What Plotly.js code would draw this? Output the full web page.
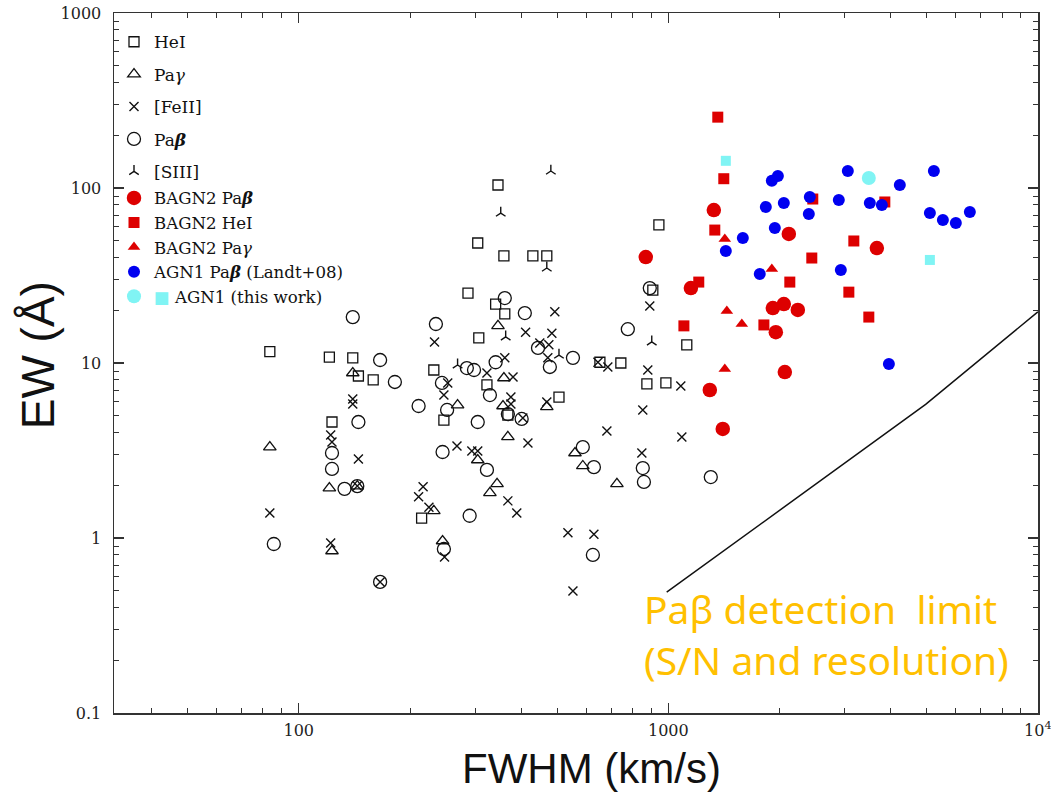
<!DOCTYPE html>
<html><head><meta charset="utf-8">
<script src="https://cdn.plot.ly/plotly-3.0.1.min.js"></script>
<style>html,body{margin:0;padding:0;background:#fff}#chart{width:1051px;height:794px}</style>
</head><body><div id="chart"></div>
<script>
// FWHM (km/s) and EW (Angstrom)
const heiFwhm = [83.5,121,140,145,159,123,215,232,247,287,305,307,323,341,346,359,361,368,430,469,506,653,744,875,908,943,985,1122];
const heiEw   = [11.6,10.8,10.7,8.43,8.0,4.6,1.3,9.12,4.72,25.1,48.5,13.9,7.49,21.7,104,40.9,19.1,5.04,40.9,40.9,6.39,10.1,10.0,7.59,26.1,61.5,7.69,12.7];

const payFwhm = [83.5,121,123,140,144,232,245,269,305,329,344,346,357,359,368,469,559,587,726];
const payEw   = [3.31,1.93,0.843,8.77,1.98,1.43,0.961,5.75,2.79,1.81,2.04,16.3,5.68,8.21,3.78,5.61,3.06,2.58,2.04];

const feFwhm = [83.5,122,123,122,140,140,145,144,166,211,217,225,233,247,253,248,268,294,305,323,361,375,375,368,389,380,404,411,417,449,475,469,472,484,493,535,552,629,645,686,682,853,848,880,891,1081,1088];
const feEw   = [1.39,3.88,3.54,0.936,6.23,5.83,2.83,1.98,0.561,1.72,1.96,1.5,13.2,6.56,7.69,0.779,3.36,3.14,3.14,8.77,10.7,6.39,5.83,1.63,1.39,8.32,4.85,15.0,3.49,13.0,12.7,5.99,10.7,14.8,19.6,1.07,0.498,1.05,10.1,9.49,4.09,5.39,3.06,9.12,21.2,7.39,3.78];

const pabFwhm = [85.6,123,123,133,140,144,145,166,166,182,211,235,244,245,247,252,285,298,305,323,329,290,341,361,368,401,409,444,478,552,587,629,625,777,891,853,859,1303];
const pabEw   = [0.924,3.06,2.48,1.91,18.3,1.98,4.6,10.4,0.561,7.79,5.68,16.7,7.69,3.1,0.865,5.39,9.36,9.12,4.6,2.45,6.56,1.34,10.1,23.5,5.11,4.79,19.3,12.2,9.49,10.7,3.31,2.54,0.8,15.6,26.8,2.51,2.09,2.23];

const siiiFwhm = [269,352,363,469,481,506,902];
const siiiEw   = [9.74,71.9,14.1,34.9,125,11.1,13.2];

const bagnPabFwhm = [869,1151,1295,1328,1404,1918,2054,1954,2119,2241,2067,3667];
const bagnPabEw   = [40.3,26.8,7.01,74.8,4.2,20.6,21.7,15.0,54.6,20.1,8.88,45.4];

const bagnHeiFwhm = [1102,1209,1336,1361,1413,1814,2132,2445,2460,3080,3177,3488,3854];
const bagnHeiEw   = [16.3,29.0,57.5,254,113,16.5,29.0,39.8,86.5,25.4,49.8,18.3,83.2];

const bagnPayFwhm = [1422,1906,1440,1581,1422];
const bagnPayEw   = [51.1,34.4,19.8,16.7,9.24];

const landtFwhm = [1431,1591,1768,1836,1906,1979,1942,2054,2400,2415,2893,2930,3060,3510,3783,3953,4231,5103,5231,5533,5999,6546];
const landtEw   = [43.7,51.8,32.3,77.9,110,117,59.1,82.1,71.0,88.8,85.4,34.0,125,82.1,80.0,9.87,104,71.9,125,65.6,63.1,72.9];

const thisWorkCircleFwhm = [3488];
const thisWorkCircleEw   = [114];
const thisWorkSquareFwhm = [1431,5103];
const thisWorkSquareEw   = [143,38.8];

const limitFwhm = [990,4970,10000];
const limitEw   = [0.49,5.8,19.6];

const xTickVals = [100,1000,10000];
const xTickText = ['100','1000','10<sup>4</sup>'];
const yTickVals = [0.1,1,10,100,1000];
const yTickText = ['0.1','1','10','100','1000'];

const INK = '#111';
const RED = '#dd0000';
const BLUE = '#0000f0';
const CYAN = '#80f4f4';

function openTrace(name, x, y, symbol, size, lw) {
  return {type:'scatter', mode:'markers', x:x, y:y, name:name, legend:'legend', legendgroup:name,
    marker:{symbol:symbol, size:size, color:INK, line:{color:INK, width:lw}}};
}
function filledTrace(name, x, y, symbol, size, color, legend) {
  return {type:'scatter', mode:'markers', x:x, y:y, name:name, legend:legend, legendgroup:name,
    marker:{symbol:symbol, size:size, color:color, line:{width:0}}};
}

const traces = [
  openTrace('HeI', heiFwhm, heiEw, 'square-open', 10, 1.3),
  openTrace('Pa<i>γ</i>', payFwhm, payEw, 'triangle-up-open', 11, 1.3),
  openTrace('[FeII]', feFwhm, feEw, 'x-thin', 9, 1.4),
  openTrace('Pa<b><i>β</i></b>', pabFwhm, pabEw, 'circle-open', 13, 1.3),
  openTrace('[SIII]', siiiFwhm, siiiEw, 'y-up', 8, 1.4),
  filledTrace('BAGN2 Pa<b><i>β</i></b>', bagnPabFwhm, bagnPabEw, 'circle', 14.5, RED, 'legend2'),
  filledTrace('BAGN2 HeI', bagnHeiFwhm, bagnHeiEw, 'square', 11, RED, 'legend2'),
  filledTrace('BAGN2 Pa<i>γ</i>', bagnPayFwhm, bagnPayEw, 'triangle-up', 11, RED, 'legend2'),
  filledTrace('AGN1 Pa<b><i>β</i></b> (Landt+08)', landtFwhm, landtEw, 'circle', 12, BLUE, 'legend2'),
  filledTrace('<span style="color:' + CYAN + '">■</span> AGN1 (this work)', thisWorkCircleFwhm, thisWorkCircleEw, 'circle', 14, CYAN, 'legend2'),
  {type:'scatter', mode:'markers', x:thisWorkSquareFwhm, y:thisWorkSquareEw, showlegend:false,
    marker:{symbol:'square', size:10, color:CYAN}},
  {type:'scatter', mode:'lines', x:limitFwhm, y:limitEw, showlegend:false, line:{color:'#111', width:1.5}}
];

const tickFont = {family:'DejaVu Serif', size:16, color:'#222'};
const axisCommon = {
  type:'log', showgrid:false, zeroline:false, showline:true, linecolor:'#333', linewidth:1.5,
  mirror:'ticks', ticks:'inside', ticklen:10, tickwidth:1.2, tickcolor:'#333', tickmode:'array',
  tickfont:tickFont, ticklabeloverflow:'allow',
  minor:{ticks:'inside', ticklen:5, tickwidth:1, tickcolor:'#333', dtick:'D1', showgrid:false}
};

const layout = {
  width:1051, height:794,
  margin:{l:114, r:13, t:13, b:81},
  paper_bgcolor:'#fff', plot_bgcolor:'#fff',
  showlegend:true,
  xaxis: Object.assign({}, axisCommon, {
    range:[1.5,4.0004], tickvals:xTickVals, ticktext:xTickText, ticklabelstandoff:2
  }),
  yaxis: Object.assign({}, axisCommon, {
    range:[-1,3], tickvals:yTickVals, ticktext:yTickText, ticklabelstandoff:8
  }),
  legend:{x:0, xanchor:'left', y:0.984, yanchor:'top', bgcolor:'rgba(0,0,0,0)', borderwidth:0,
    traceorder:'grouped', tracegroupgap:7.3, font:{family:'DejaVu Serif', size:17, color:INK}},
  legend2:{x:0, xanchor:'left', y:0.7605, yanchor:'top', bgcolor:'rgba(0,0,0,0)', borderwidth:0,
    traceorder:'grouped', tracegroupgap:0, font:{family:'DejaVu Serif', size:16.6, color:INK}},
  annotations:[
    {xref:'paper', yref:'paper', x:0.517, y:-0.079, xanchor:'center', yanchor:'middle',
     showarrow:false, text:'FWHM (km/s)', font:{family:'Liberation Sans', size:42, color:'#111'}},
    {xref:'paper', yref:'paper', x:-0.0823, y:0.511, xanchor:'center', yanchor:'middle', textangle:-90,
     showarrow:false, text:'EW (Å)', font:{family:'Liberation Sans', size:46, color:'#111'}},
    {xref:'paper', yref:'paper', x:0.5715, y:0.19, xanchor:'left', yanchor:'top', align:'left',
     showarrow:false, text:'Paβ detection\u00a0 limit<br>(S/N and resolution)',
     font:{family:'Noto Sans', size:39, color:'#FFC000'}}
  ]
};

Plotly.newPlot('chart', traces, layout, {displayModeBar:false, staticPlot:true});
</script>
</body></html>
